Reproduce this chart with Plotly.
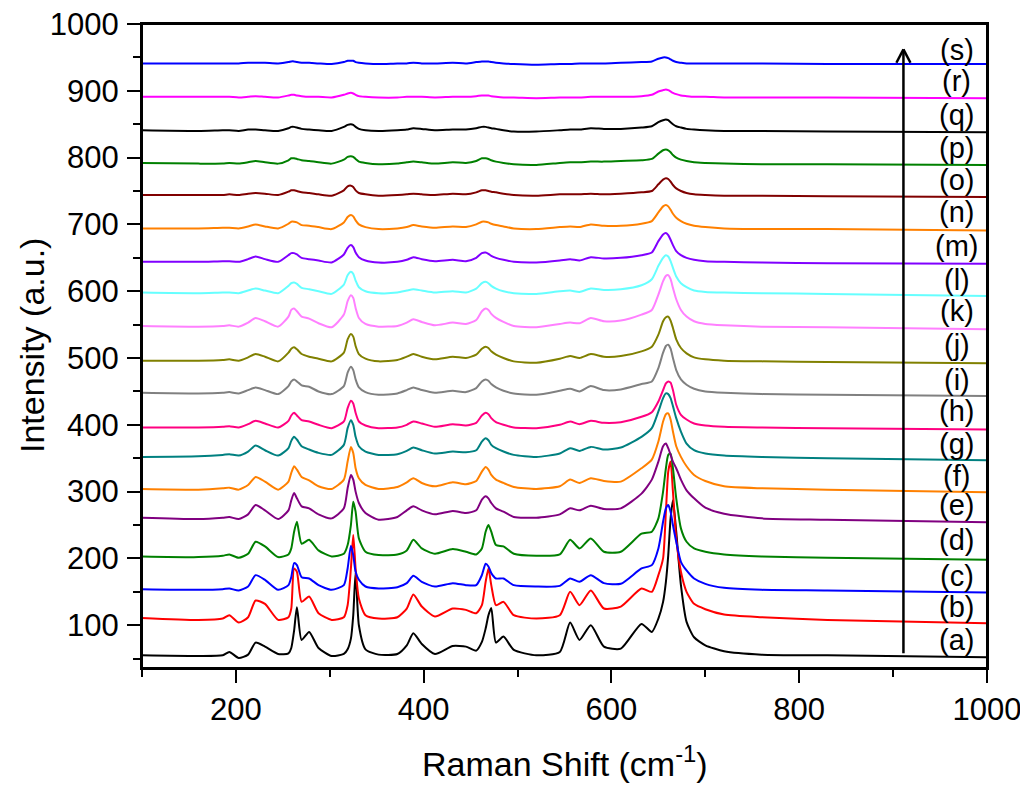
import plotly.graph_objects as go

# Raman shift grid (cm^-1) shared by all spectra
SHIFT = [100, 160, 186, 193, 203, 213, 221, 231, 245, 256,
         259, 262, 265, 270, 278, 288, 302, 315, 319, 322.5,
         325, 327.5, 331, 338, 352, 372, 382, 389, 398, 412,
         431, 445, 456, 462, 466, 469, 472, 477, 485, 496,
         520, 545, 556, 566, 578, 592, 610, 632, 643, 650,
         655, 658, 660.5, 663, 665.5, 669, 674, 680, 688, 700,
         720, 760, 830, 1000]

SPEC_A = [55, 54, 55, 60, 51, 56, 74, 68, 57, 58,
          66, 92, 127, 78, 90, 66, 54, 57, 64, 80,
          115, 179, 100, 64, 56, 57, 70, 88, 72, 57,
          69, 68, 62, 75, 95, 115, 126, 74, 83, 63,
          55, 60, 104, 78, 100, 68, 65, 102, 90, 110,
          135, 165, 205, 260, 287, 240, 160, 105, 82, 70,
          61, 56, 55, 52]
SPEC_B = [111, 108, 110, 115, 104, 112, 137, 132, 108, 112,
          125, 185, 180, 135, 143, 118, 108, 112, 130, 185,
          235, 185, 140, 115, 110, 112, 125, 146, 128, 113,
          125, 123, 118, 130, 165, 185, 160, 130, 135, 115,
          110, 115, 150, 130, 152, 125, 128, 155, 150, 175,
          200, 270, 330, 345, 300, 230, 180, 150, 132, 124,
          116, 112, 108, 103]
SPEC_C = [154, 153, 154, 155, 152, 158, 175, 168, 153, 160,
          172, 193, 190, 172, 170, 160, 153, 160, 185, 219,
          205, 180, 168, 158, 155, 157, 163, 174, 165, 158,
          163, 160, 160, 175, 192, 188, 178, 170, 170, 160,
          158, 159, 170, 165, 175, 163, 162, 185, 190, 215,
          255, 275, 280, 270, 250, 225, 195, 182, 170, 162,
          156, 153, 152, 149]
SPEC_D = [203, 202, 204, 206, 201, 207, 225, 218, 202, 206,
          215, 240, 255, 222, 228, 212, 203, 207, 220, 250,
          285, 270, 230, 210, 205, 206, 212, 228, 215, 207,
          214, 210, 206, 215, 240, 250, 240, 220, 218, 207,
          204, 206, 228, 215, 230, 210, 210, 237, 240, 260,
          300, 335, 355, 357, 335, 290, 245, 225, 215, 210,
          206, 203, 201, 198]
SPEC_E = [261, 259, 261, 262, 259, 266, 280, 272, 259, 272,
          287, 298, 290, 278, 275, 266, 260, 275, 305, 325,
          318, 300, 283, 268, 258, 262, 272, 278, 272, 266,
          271, 268, 272, 288, 293, 290, 283, 275, 270, 262,
          261, 266, 275, 272, 279, 274, 275, 297, 318, 345,
          368, 372, 365, 355, 345, 335, 318, 302, 290, 276,
          267, 260, 258, 254]
SPEC_F = [304, 303, 305, 306, 303, 310, 322, 315, 303, 315,
          328, 338, 333, 322, 317, 308, 304, 318, 345, 367,
          358, 335, 320, 310, 304, 307, 314, 320, 313, 308,
          314, 311, 316, 330, 337, 333, 325, 318, 313, 307,
          304, 308, 318, 313, 320, 316, 315, 335, 348, 375,
          405, 416, 417, 408, 390, 368, 352, 338, 325, 316,
          308, 305, 303, 299]
SPEC_G = [352, 353, 355, 356, 354, 360, 369, 362, 354, 365,
          376, 382, 378, 368, 363, 358, 355, 370, 395, 407,
          400, 382, 368, 360, 355, 356, 361, 366, 362, 357,
          360, 359, 362, 375, 380, 377, 370, 365, 360, 355,
          352, 357, 365, 361, 367, 363, 366, 382, 395, 420,
          440, 447, 446, 440, 428, 410, 390, 372, 362, 357,
          354, 352, 350, 347]
SPEC_H = [396, 396, 397, 398, 396, 401, 406, 402, 396, 406,
          414, 418, 414, 407, 405, 400, 395, 405, 425, 436,
          432, 418, 405, 399, 395, 396, 400, 405, 402, 397,
          401, 399, 403, 414, 418, 416, 410, 404, 400, 396,
          395, 400, 405, 401, 406, 403, 404, 412, 419, 435,
          452, 462, 465, 463, 452, 430, 415, 408, 402, 399,
          397, 396, 395, 393]
SPEC_I = [448, 447, 448, 449, 447, 452, 456, 452, 446, 458,
          465, 468, 465, 459, 457, 450, 446, 458, 478, 487,
          482, 468, 456, 449, 445, 447, 452, 456, 452, 448,
          451, 449, 455, 465, 468, 466, 461, 456, 451, 447,
          445, 451, 454, 450, 458, 452, 453, 461, 465, 485,
          508, 518, 520, 514, 500, 482, 468, 460, 454, 450,
          448, 446, 445, 443]
SPEC_J = [496, 496, 497, 498, 496, 501, 506, 502, 495, 508,
          514, 516, 513, 506, 502, 499, 495, 508, 528, 536,
          532, 518, 506, 499, 495, 497, 502, 506, 502, 498,
          502, 500, 505, 514, 517, 515, 510, 505, 500, 495,
          493, 499, 503, 500, 506, 502, 503, 510, 517, 535,
          555, 561, 562, 556, 545, 528, 515, 507, 501, 498,
          496, 495, 494, 492]
SPEC_K = [548, 547, 548, 549, 547, 553, 560, 555, 547, 562,
          572, 574, 570, 562, 559, 552, 546, 565, 585, 594,
          590, 575, 560, 551, 547, 548, 553, 558, 554, 549,
          553, 551, 557, 570, 574, 572, 566, 560, 554, 548,
          546, 551, 553, 552, 560, 555, 556, 565, 572, 595,
          615, 623, 624, 618, 605, 588, 572, 562, 555, 551,
          549, 547, 546, 543]
SPEC_L = [598, 597, 598, 598, 597, 601, 604, 601, 597, 608,
          612, 613, 611, 605, 603, 600, 596, 610, 624, 629,
          626, 616, 606, 600, 597, 598, 601, 603, 601, 598,
          600, 598, 604, 612, 614, 612, 608, 604, 600, 597,
          596, 600, 601, 599, 604, 602, 603, 609, 618, 638,
          650, 654, 652, 645, 635, 622, 612, 606, 601, 599,
          598, 597, 596, 593]
SPEC_M = [644, 644, 645, 645, 644, 648, 652, 648, 644, 654,
          657, 657, 655, 650, 648, 646, 643, 655, 665, 669,
          666, 658, 651, 646, 643, 644, 647, 651, 648, 645,
          647, 645, 650, 657, 658, 656, 653, 650, 647, 644,
          643, 646, 648, 646, 651, 649, 650, 654, 658, 675,
          685, 687, 684, 677, 669, 660, 654, 650, 647, 645,
          644, 643, 642, 641]
SPEC_N = [694, 694, 695, 695, 694, 697, 700, 697, 694, 701,
          704, 704, 703, 699, 698, 696, 693, 703, 711, 714,
          712, 706, 700, 696, 693, 694, 696, 699, 697, 695,
          697, 696, 700, 704, 704, 703, 701, 699, 697, 694,
          693, 696, 697, 696, 700, 698, 698, 701, 705, 718,
          727, 729, 727, 722, 716, 710, 705, 701, 698, 696,
          694, 693, 693, 691]
SPEC_O = [744, 744, 744, 745, 744, 746, 747, 746, 744, 749,
          751, 751, 750, 748, 747, 745, 743, 751, 757, 758,
          756, 751, 747, 745, 743, 744, 745, 746, 745, 744,
          746, 745, 748, 751, 751, 750, 749, 748, 746, 744,
          743, 745, 745, 745, 746, 745, 746, 748, 750, 760,
          767, 769, 768, 764, 759, 754, 750, 747, 745, 744,
          743, 743, 742, 741]
SPEC_P = [792, 791, 791, 792, 791, 793, 795, 793, 791, 796,
          799, 799, 798, 796, 795, 793, 791, 797, 801, 802,
          801, 798, 794, 792, 790, 791, 793, 794, 793, 791,
          793, 792, 795, 799, 799, 798, 796, 794, 792, 790,
          789, 792, 793, 793, 794, 794, 795, 796, 798, 806,
          811, 812, 811, 808, 804, 800, 797, 795, 793, 792,
          791, 790, 790, 789]
SPEC_Q = [841, 840, 841, 841, 840, 842, 842, 841, 840, 844,
          846, 846, 845, 843, 842, 841, 840, 846, 849, 850,
          849, 846, 843, 841, 840, 841, 842, 844, 843, 841,
          842, 842, 844, 846, 846, 845, 844, 843, 841, 839,
          839, 841, 842, 842, 844, 843, 843, 845, 847, 853,
          856, 857, 856, 853, 850, 847, 845, 843, 842, 841,
          840, 840, 839, 838]
SPEC_R = [891, 891, 891, 891, 890, 891, 892, 891, 890, 893,
          894, 894, 893, 892, 891, 891, 890, 894, 896, 897,
          896, 894, 892, 891, 890, 890, 891, 891, 891, 890,
          891, 891, 892, 893, 893, 893, 892, 891, 890, 890,
          889, 890, 890, 890, 891, 891, 891, 892, 894, 899,
          901, 902, 901, 899, 897, 895, 893, 892, 891, 891,
          890, 890, 890, 889]
SPEC_S = [941, 941, 941, 941, 941, 942, 942, 942, 941, 943,
          944, 944, 943, 942, 942, 941, 940, 943, 945, 945,
          945, 943, 942, 941, 940, 941, 941, 942, 941, 941,
          942, 941, 943, 944, 944, 944, 943, 942, 941, 940,
          939, 940, 940, 941, 941, 941, 942, 943, 944, 948,
          950, 950, 949, 947, 945, 943, 942, 941, 941, 941,
          941, 941, 940, 940]

LABELS = ["(a)", "(b)", "(c)", "(d)", "(e)", "(f)", "(g)", "(h)", "(i)", "(j)",
          "(k)", "(l)", "(m)", "(n)", "(o)", "(p)", "(q)", "(r)", "(s)"]
SPECTRA = [SPEC_A, SPEC_B, SPEC_C, SPEC_D, SPEC_E, SPEC_F, SPEC_G, SPEC_H, SPEC_I, SPEC_J,
           SPEC_K, SPEC_L, SPEC_M, SPEC_N, SPEC_O, SPEC_P, SPEC_Q, SPEC_R, SPEC_S]
COLORS = ["#000000", "#FF0000", "#0000FF", "#008000", "#800080", "#FF8000", "#008080",
          "#FF0080", "#808080", "#808000", "#FF80FF", "#66FFFF", "#8000FF", "#FF8000",
          "#800000", "#008000", "#000000", "#FF00FF", "#0000FF"]

# label positions (text placement)
LABEL_X = 968
LABEL_Y = [78, 128, 174, 227, 280, 323, 372, 420, 467, 520,
           571, 617, 668, 718, 767, 814, 864, 914, 961]

# arrow (data units)
ARROW_X = 911
ARROW_Y0 = 58
ARROW_Y1 = 962

FONT = "Arial, Liberation Sans, sans-serif"

fig = go.Figure()
for name, ys, col in zip(LABELS, SPECTRA, COLORS):
    fig.add_trace(go.Scatter(x=SHIFT, y=ys, mode="lines", name=name,
                             line=dict(color=col, width=2, shape="spline", smoothing=0.6),
                             showlegend=False, hoverinfo="skip"))

for lab, ly in zip(LABELS, LABEL_Y):
    fig.add_annotation(x=LABEL_X, y=ly, text=lab, showarrow=False,
                       font=dict(family=FONT, size=29, color="black"),
                       xanchor="center", yanchor="middle")

# axis titles
fig.add_annotation(xref="paper", yref="paper", x=0.5, y=0, yanchor="middle", yshift=-93,
                   text="Raman Shift (cm<sup>-1</sup>)", showarrow=False,
                   font=dict(family=FONT, size=34, color="black"))
fig.add_annotation(xref="paper", yref="paper", x=0, y=0.5, xanchor="center", xshift=-110,
                   text="Intensity (a.u.)", textangle=-90, showarrow=False,
                   font=dict(family=FONT, size=34, color="black"))

# plot frame
fig.add_shape(type="rect", xref="paper", yref="paper", x0=0, x1=1, y0=0, y1=1,
              line=dict(color="black", width=2), layer="above")

# arrow: shaft + open head
fig.add_shape(type="line", x0=ARROW_X, x1=ARROW_X, y0=ARROW_Y0, y1=ARROW_Y1,
              line=dict(color="black", width=2.5), layer="above")
fig.add_shape(type="line", x0=ARROW_X - 7.5, x1=ARROW_X, y0=ARROW_Y1 - 20, y1=ARROW_Y1,
              line=dict(color="black", width=2.5), layer="above")
fig.add_shape(type="line", x0=ARROW_X + 7.5, x1=ARROW_X, y0=ARROW_Y1 - 20, y1=ARROW_Y1,
              line=dict(color="black", width=2.5), layer="above")

axis_common = dict(showline=True, linecolor="black", linewidth=2, mirror=True,
                   ticks="outside", ticklen=13, tickwidth=2, tickcolor="black",
                   showgrid=False, zeroline=False, ticklabeloverflow="allow",
                   tickfont=dict(family=FONT, size=31, color="black"))

fig.update_xaxes(range=[100, 1000], tick0=0, dtick=200,
                 minor=dict(ticks="outside", ticklen=7, tickwidth=2, tickcolor="black", dtick=100, tick0=0),
                 **axis_common)
fig.update_yaxes(range=[36, 1000], tick0=0, dtick=100, ticklabelstandoff=2,
                 minor=dict(ticks="outside", ticklen=7, tickwidth=2, tickcolor="black", dtick=50, tick0=0),
                 **axis_common)

# page body has an 8px margin: the figure is sized so the plot frame lands at 142..987 x 24..668
fig.update_layout(width=1020, height=779,
                  margin=dict(l=134, r=41, t=16, b=119, autoexpand=False),
                  paper_bgcolor="white", plot_bgcolor="white")

fig.write_html("out.html", config={"displayModeBar": False})
